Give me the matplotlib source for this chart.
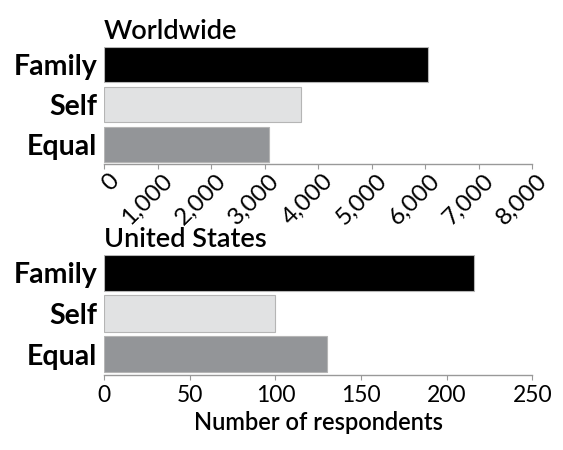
import matplotlib
matplotlib.use("Agg")
import matplotlib.pyplot as plt
from matplotlib.ticker import FuncFormatter
from matplotlib.transforms import ScaledTranslation

plt.rcParams['font.family'] = ['Lato', 'DejaVu Sans']

categories = ["Family", "Self", "Equal"]
colors = ["#000000", "#e1e2e3", "#939598"]

world_values = [6050, 3680, 3090]
us_values = [216, 100, 130]

world_ticks = [0, 1000, 2000, 3000, 4000, 5000, 6000, 7000, 8000]
us_ticks = [0, 50, 100, 150, 200, 250]


def draw_panel(ax, values, ticks, title, rotate, ybottom):
    ax.barh(range(len(categories)), values, height=0.89, color=colors,
            edgecolor="#b5b5b5", linewidth=0.8)
    ax.set_xlim(ticks[0], ticks[-1])
    ax.set_ylim(ybottom, -0.445)
    ax.set_yticks(range(len(categories)))
    ax.set_yticklabels(categories, fontsize=20.5, fontweight="bold")
    ax.tick_params(axis="y", length=0, pad=5)
    ax.set_xticks(ticks)
    ax.xaxis.set_major_formatter(FuncFormatter(lambda v, p: "{:,.0f}".format(v)))
    ax.tick_params(axis="x", length=3.5, color="#999999", labelsize=16.5, pad=3)
    if rotate:
        ax.tick_params(axis="x", labelsize=17.5)
        shift = ScaledTranslation(4 / 100, 3 / 100, fig.dpi_scale_trans)
        for lbl in ax.get_xticklabels():
            lbl.set_rotation(45)
            lbl.set_ha("right")
            lbl.set_va("top")
            lbl.set_rotation_mode("anchor")
            lbl.set_transform(lbl.get_transform() + shift)
    for s in ["top", "right", "left"]:
        ax.spines[s].set_visible(False)
    ax.spines["bottom"].set_color("#999999")
    ax.spines["bottom"].set_linewidth(1.0)
    ax.set_title(title, loc="left", fontsize=19.5, fontweight="semibold",
                 pad=5.5, x=0.0)


fig = plt.figure(figsize=(5.63, 4.5), dpi=100)
ax1 = fig.add_axes([0.1847, 0.6349, 0.761, 0.2613])
ax2 = fig.add_axes([0.1847, 0.1656, 0.761, 0.2678])

draw_panel(ax1, world_values, world_ticks, "Worldwide", True, 2.49)
draw_panel(ax2, us_values, us_ticks, "United States", False, 2.53)
ax2.set_xlabel("Number of respondents", fontsize=17, fontweight="semibold", labelpad=4)

fig.savefig("out.png", dpi=100)
